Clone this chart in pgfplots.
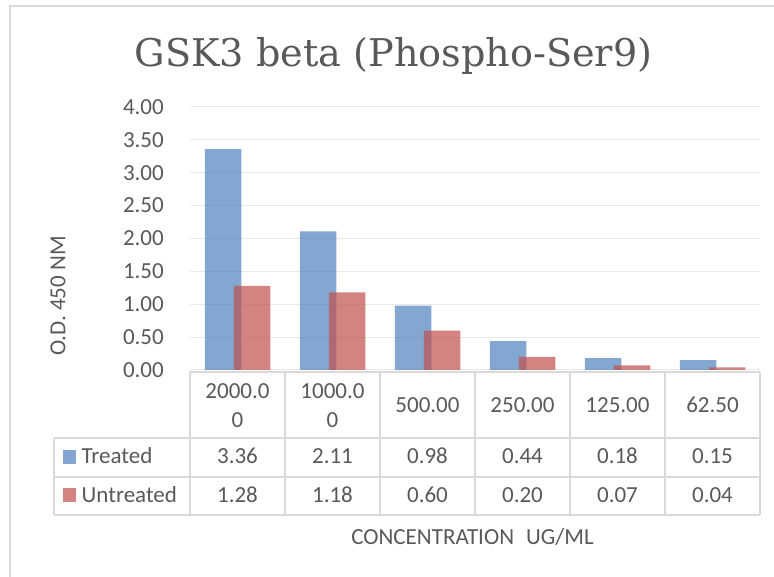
\documentclass[border=0pt]{standalone}
\usepackage{pgfplots}
\pgfplotsset{compat=1.18}
\usepackage{fontspec}
\setmainfont{Carlito}
\newfontfamily\titlefont{DejaVu Serif}
\definecolor{txt}{RGB}{89,89,89}
\definecolor{gridc}{RGB}{217,217,217}
\definecolor{gridl}{RGB}{232,232,232}
\definecolor{tblue}{RGB}{79,129,189}
\definecolor{ured}{RGB}{192,80,77}
\definecolor{tbluel}{RGB}{131,166,208}
\definecolor{uredl}{RGB}{211,132,130}
\newcommand\fs{\fontsize{23}{27}\selectfont}
\begin{document}
\begin{tikzpicture}
\path[use as bounding box] (0,0) rectangle (774pt,577pt);
\begin{axis}[
  at={(190pt,207pt)}, anchor=south west, scale only axis,
  width=570pt, height=263pt,
  xmin=-0.5, xmax=5.5, ymin=0, ymax=4,
  axis line style={draw=none},
  xtick=\empty,
  ytick={0,0.5,1,1.5,2,2.5,3,3.5,4},
  yticklabels={0.00,0.50,1.00,1.50,2.00,2.50,3.00,3.50,4.00},
  major tick length=0pt,
  ymajorgrids, grid style={draw=gridl, line width=1pt},
  yticklabel style={font=\fs, text=txt, inner sep=0pt, anchor=east, xshift=-26pt},
  clip=false,
]
\addplot[ybar, bar width=36.5pt, bar shift=-14.5pt, fill=tblue, fill opacity=0.7, draw=none]
  coordinates {(0,3.36) (1,2.11) (2,0.98) (3,0.44) (4,0.18) (5,0.15)};
\addplot[ybar, bar width=36.5pt, bar shift=14.5pt, fill=ured, fill opacity=0.7, draw=none]
  coordinates {(0,1.28) (1,1.18) (2,0.60) (3,0.20) (4,0.07) (5,0.04)};
\end{axis}
\begin{scope}[x=1pt, y=-1pt, shift={(0pt,577pt)}]
  % chart frame
  \draw[gridc, line width=1.2pt] (10,577) -- (10,6) -- (774,6);
  % title
  \node[anchor=base, inner sep=0pt, text=txt, font=\titlefont\fontsize{38.2}{42}\selectfont] at (393.5,67) {GSK3 beta (Phospho-Ser9)};
  % table lines
  \begin{scope}[gridc, line width=1.2pt]
    \draw (190,372) -- (760,372);
    \foreach \yy in {438,477,515} \draw (54,\yy) -- (760,\yy);
    \draw (54,438) -- (54,515);
    \foreach \xx in {190,285,380,475,570,665,760} \draw (\xx,372) -- (\xx,515);
  \end{scope}
  \begin{scope}[every node/.style={inner sep=0pt, text=txt, font=\fs, anchor=base}]
    % categories
    \node at (237.5,399) {2000.0};
    \node at (237.5,428) {0};
    \node at (332.5,399) {1000.0};
    \node at (332.5,428) {0};
    \node at (427.5,413) {500.00};
    \node at (522.5,413) {250.00};
    \node at (617.5,413) {125.00};
    \node at (712.5,413) {62.50};
    % Treated
    \node at (237.5,464) {3.36};
    \node at (332.5,464) {2.11};
    \node at (427.5,464) {0.98};
    \node at (522.5,464) {0.44};
    \node at (617.5,464) {0.18};
    \node at (712.5,464) {0.15};
    % Untreated
    \node at (237.5,502.5) {1.28};
    \node at (332.5,502.5) {1.18};
    \node at (427.5,502.5) {0.60};
    \node at (522.5,502.5) {0.20};
    \node at (617.5,502.5) {0.07};
    \node at (712.5,502.5) {0.04};
    % legend
    \node[anchor=base west] at (62.5,464) {\textcolor{tbluel}{\rule{13.5pt}{14pt}}\hspace{5.5pt}Treated};
    \node[anchor=base west] at (62.5,502.5) {\textcolor{uredl}{\rule{13.5pt}{14pt}}\hspace{5.5pt}Untreated};
    % axis titles
    \node at (472.5,545) {CONCENTRATION\hspace{0.3em} UG/ML};
    \node[anchor=center, rotate=90] at (58,296) {O.D. 450 NM};
  \end{scope}
\end{scope}
\end{tikzpicture}
\end{document}
